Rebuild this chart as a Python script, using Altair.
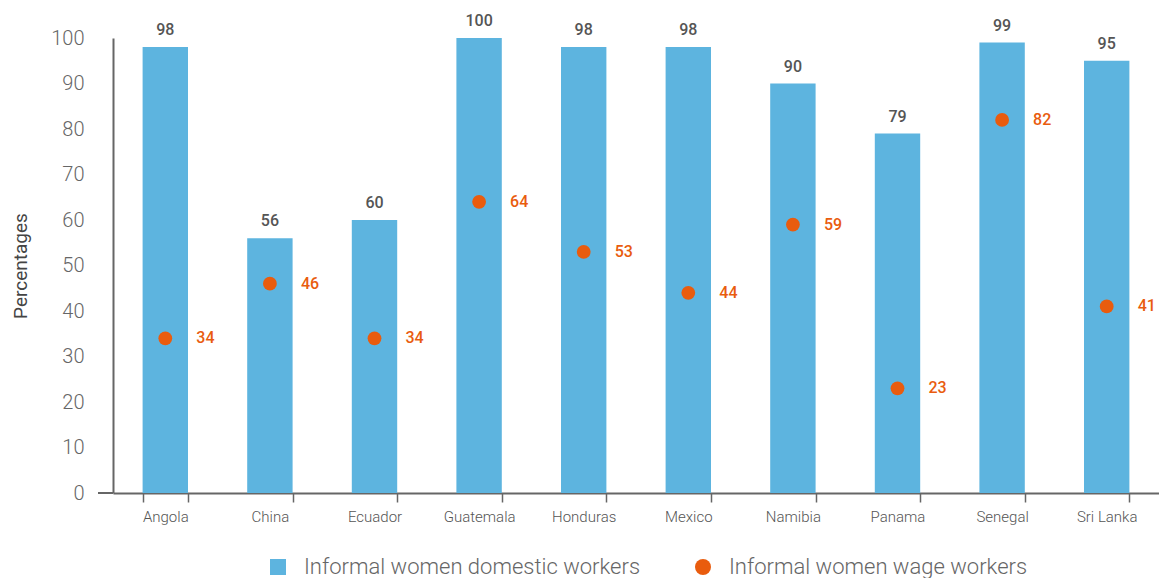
import altair as alt
import pandas as pd

countries = ["Angola", "China", "Ecuador", "Guatemala", "Honduras", "Mexico",
             "Namibia", "Panama", "Senegal", "Sri Lanka"]
domestic = [98, 56, 60, 100, 98, 98, 90, 79, 99, 95]
wage = [34, 46, 34, 64, 53, 44, 59, 23, 82, 41]
series_names = ["Informal women domestic workers", "Informal women wage workers"]
y_ticks = [0, 10, 20, 30, 40, 50, 60, 70, 80, 90, 100]

BLUE = "#5DB4DF"
ORANGE = "#E95C0E"
AXIS = "#666666"
FONT = "Roboto"

rows = []
for c, d, w in zip(countries, domestic, wage):
    rows.append({"country": c, "series": series_names[0], "value": d})
    rows.append({"country": c, "series": series_names[1], "value": w})
df = pd.DataFrame(rows)

x = alt.X("country:N", sort=countries, title=None,
          scale=alt.Scale(paddingInner=0.566, paddingOuter=0.283),
          axis=alt.Axis(labelAngle=0, labelFontSize=15, labelColor="#555555",
                        labelFont=FONT, labelFontWeight=300, labelPadding=7,
                        tickBand="extent", tickSize=9, tickColor=AXIS, tickWidth=1.5,
                        domainColor=AXIS, domainWidth=2))
y = alt.Y("value:Q", title="Percentages",
          scale=alt.Scale(domain=[0, 100], nice=False),
          axis=alt.Axis(values=y_ticks, grid=False, ticks=False, tickSize=0,
                        labelPadding=29, labelFontSize=20, labelColor="#666666",
                        labelFont=FONT, labelFontWeight=300,
                        domainColor=AXIS, domainWidth=2,
                        titleFont=FONT, titleFontSize=19, titleFontWeight=400,
                        titleColor="#444444", titlePadding=20))

legend = alt.Legend(title=None, orient="none", direction="horizontal",
                    legendX=154, legendY=518,
                    labelFont=FONT, labelFontSize=22, labelFontWeight=300,
                    labelColor="#666666", symbolSize=256, labelLimit=0,
                    symbolStrokeWidth=0, labelOffset=15,
                    columnPadding=51, symbolOpacity=1)

color = alt.Color("series:N",
                  scale=alt.Scale(domain=series_names, range=[BLUE, ORANGE]),
                  legend=legend)
shape = alt.Shape("series:N",
                  scale=alt.Scale(domain=series_names, range=["square", "circle"]),
                  legend=legend)

base = alt.Chart(df)

bars = base.transform_filter(alt.datum.series == series_names[0]).mark_bar().encode(
    x=x, y=y, color=color)

bar_labels = base.transform_filter(alt.datum.series == series_names[0]).mark_text(
    baseline="bottom", dy=-9, fontSize=16, font=FONT, fontWeight=500, color="#555555"
).encode(x=x, y=y, text="value:Q")

points = base.transform_filter(alt.datum.series == series_names[1]).mark_point(
    filled=True, size=190, opacity=1
).encode(x=x, y=y, color=color, shape=shape)

point_labels = base.transform_filter(alt.datum.series == series_names[1]).mark_text(
    align="left", baseline="middle", dx=31, fontSize=16, font=FONT, fontWeight=500,
    color=ORANGE
).encode(x=x, y=y, text="value:Q")

ext = alt.Chart(pd.DataFrame({"v": [0]})).mark_rule(color=AXIS, strokeWidth=2).encode(
    y=alt.Y("v:Q"), x=alt.value(-15), x2=alt.value(0))

chart = alt.layer(bars, bar_labels, points, point_labels, ext).properties(
    width=1046, height=455,
    autosize=alt.AutoSizeParams(type="none"),
    padding={"left": 105, "top": 30, "right": 0, "bottom": 85},
).configure_view(stroke=None)

chart.save("out.html", embed_options={"renderer": "svg", "actions": False})
